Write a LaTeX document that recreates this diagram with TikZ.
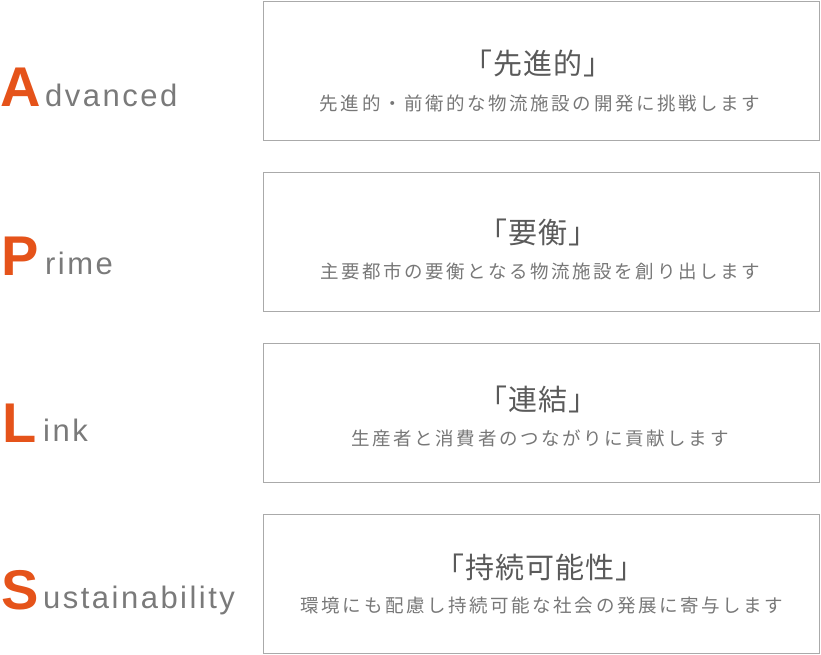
\documentclass[tikz,border=0pt]{standalone}
\usepackage{fontspec}
\newfontfamily\cjktitle[LetterSpace=4]{Noto Sans CJK JP}
\newfontfamily\cjksub[LetterSpace=14]{Noto Sans CJK JP}
\newfontfamily\latinword[LetterSpace=8]{Liberation Sans}
\newfontfamily\bigletter{Liberation Sans}
\definecolor{accent}{HTML}{E5531A}
\definecolor{wordgray}{HTML}{7A7A7A}
\definecolor{titlegray}{HTML}{5A5A5A}
\definecolor{subgray}{HTML}{777777}
\definecolor{boxgray}{HTML}{AAAAAA}
\tikzset{
  panel/.style={draw=boxgray, line width=1.3pt, rectangle, minimum width=556pt, minimum height=139pt, inner sep=0pt},
  ttl/.style={font=\cjktitle\fontsize{29}{29}\selectfont, text=titlegray, inner sep=0pt, anchor=center},
  subt/.style={font=\cjksub\fontsize{18.5}{18.5}\selectfont, text=subgray, inner sep=0pt, anchor=center},
  initial/.style={font=\bigletter\bfseries\fontsize{56}{56}\selectfont, text=accent, inner sep=0pt, anchor=base west},
  rest/.style={font=\latinword\fontsize{31}{31}\selectfont, text=wordgray, inner sep=0pt, anchor=base west}
}
\begin{document}
\begin{tikzpicture}[x=1pt,y=-1pt]
\useasboundingbox (0,0) rectangle (821,655);
% panels
\node[panel] (b1) at (541.8,71) {};
\node[panel] (b2) at (541.8,242) {};
\node[panel] (b3) at (541.8,413) {};
\node[panel] (b4) at (541.8,584) {};
% titles and texts
\node[ttl] (t1) at (538,63) {「先進的」};
\node[subt] (s1) at (540,103) {先進的・前衛的な物流施設の開発に挑戦します};
\node[ttl] (t2) at (538,232) {「要衡」};
\node[subt] (s2) at (540,271) {主要都市の要衡となる物流施設を創り出します};
\node[ttl] (t3) at (538,399) {「連結」};
\node[subt] (s3) at (540,438) {生産者と消費者のつながりに貢献します};
\node[ttl] (t4) at (540,567) {「持続可能性」};
\node[subt] (s4) at (542,605) {環境にも配慮し持続可能な社会の発展に寄与します};
% left words
\node[initial] (A) at (0,107) {A};
\node[rest] (wA) at (45,107) {dvanced};
\node[initial] (P) at (1,275) {P};
\node[rest] (wP) at (45,274) {rime};
\node[initial] (L) at (2,442) {L};
\node[rest] (wL) at (43,441) {ink};
\node[initial] (S) at (1,609) {S};
\node[rest] (wS) at (43,608) {ustainability};
\end{tikzpicture}
\end{document}
